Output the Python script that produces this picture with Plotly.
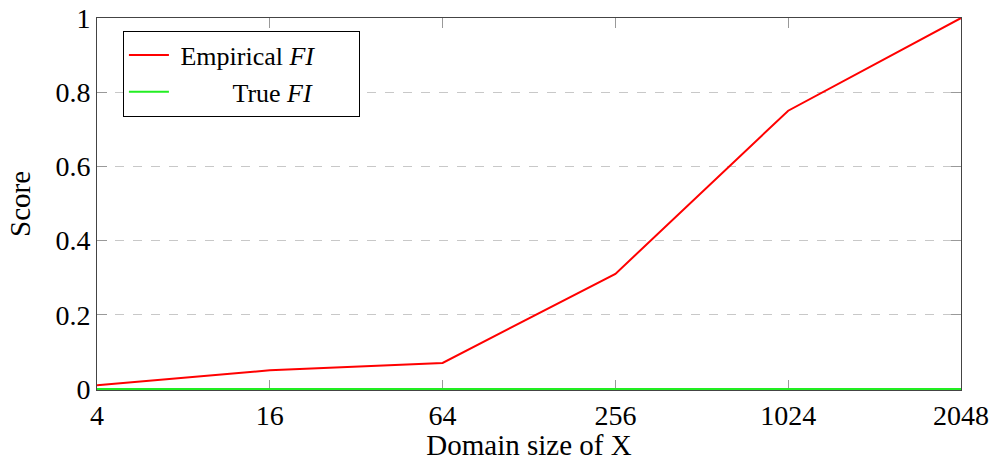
import plotly.graph_objects as go

domain_sizes = ["4", "16", "64", "256", "1024", "2048"]
empirical_fi = [0.01, 0.05, 0.07, 0.31, 0.75, 1.0]
true_fi = [0.0, 0.0, 0.0, 0.0, 0.0, 0.0]
y_ticks = [0, 0.2, 0.4, 0.6, 0.8, 1.0]
y_tick_labels = ["0", "0.2", "0.4", "0.6", "0.8", "1"]

FONT = "Liberation Serif"
NB = "\u00a0"

fig = go.Figure()
fig.add_trace(go.Scatter(x=domain_sizes, y=empirical_fi, mode="lines",
                         name=NB + "Empirical <i>FI</i>" + NB * 6,
                         cliponaxis=False,
                         line=dict(color="#ff0000", width=2)))
fig.add_trace(go.Scatter(x=domain_sizes, y=true_fi, mode="lines",
                         name=NB * 9 + "True <i>FI</i>",
                         cliponaxis=False,
                         line=dict(color="#22ee22", width=2)))

fig.update_layout(
    width=991, height=461,
    margin=dict(l=97, r=30, t=18, b=71, autoexpand=False),
    plot_bgcolor="white", paper_bgcolor="white",
    font=dict(family=FONT, size=28, color="black"),
    showlegend=True,
    legend=dict(x=0.03, y=0.966, xanchor="left", yanchor="top",
                bordercolor="black", borderwidth=1, bgcolor="white",
                font=dict(family=FONT, size=26), tracegroupgap=0,
                itemwidth=40),
    xaxis=dict(type="category", range=[0, 5], automargin=False,
               title=dict(text="Domain size of X", font=dict(size=29), standoff=10),
               showline=True, linecolor="#444", linewidth=1, mirror="ticks",
               ticks="inside", ticklen=10, tickcolor="#999", tickwidth=1,
               showgrid=False, zeroline=False, layer="below traces",
               tickfont=dict(size=28)),
    yaxis=dict(range=[-0.003, 1], tickvals=y_ticks, ticktext=y_tick_labels, automargin=False,
               title=dict(text="Score", font=dict(size=29), standoff=16),
               showline=True, linecolor="#444", linewidth=1, mirror="ticks",
               ticks="inside", ticklen=10, tickcolor="#999", tickwidth=1,
               showgrid=True, gridcolor="#c8c8c8", griddash="dash", gridwidth=1,
               zeroline=False, layer="below traces", tickfont=dict(size=28)),
)

fig.write_html("out.html")
